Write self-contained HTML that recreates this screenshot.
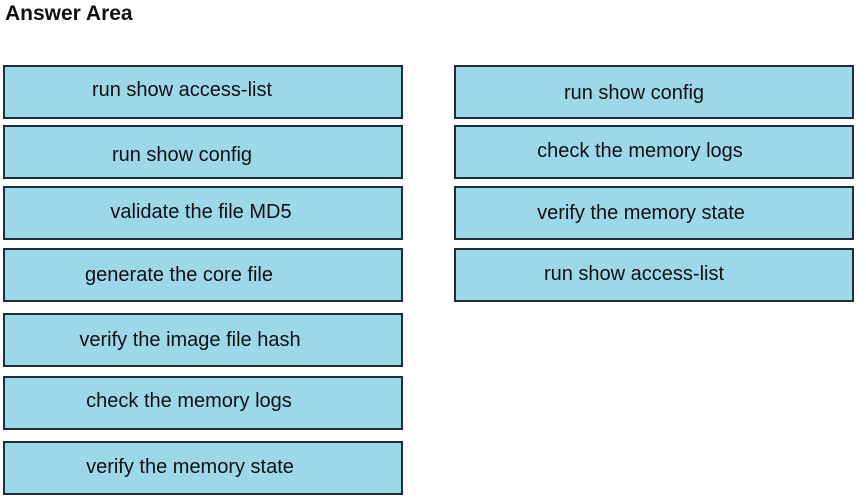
<!DOCTYPE html>
<html><head><style>
body{margin:0;width:866px;height:504px;background:#fff;position:relative;overflow:hidden;font-family:"Liberation Sans",sans-serif}
.t{position:absolute;left:5px;top:2px;font-weight:bold;font-size:21px;color:#111}
.b{position:absolute;background:#9dd8e9;border:2px solid #1f2f38;box-sizing:border-box}
.l{position:absolute;width:400px;text-align:center;font-size:20px;color:#111;line-height:22px}
</style></head><body>
<div class="t">Answer Area</div>
<div class="b" style="left:3px;top:65px;width:400px;height:54px"></div>
<div class="b" style="left:3px;top:125px;width:400px;height:54px"></div>
<div class="b" style="left:3px;top:186px;width:400px;height:54px"></div>
<div class="b" style="left:3px;top:248px;width:400px;height:54px"></div>
<div class="b" style="left:3px;top:313px;width:400px;height:54px"></div>
<div class="b" style="left:3px;top:376px;width:400px;height:54px"></div>
<div class="b" style="left:3px;top:441px;width:400px;height:54px"></div>
<div class="b" style="left:454px;top:65px;width:400px;height:54px"></div>
<div class="b" style="left:454px;top:125px;width:400px;height:54px"></div>
<div class="b" style="left:454px;top:186px;width:400px;height:54px"></div>
<div class="b" style="left:454px;top:248px;width:400px;height:54px"></div>
<div class="l" style="left:-18px;top:79px">run show access-list</div>
<div class="l" style="left:-18px;top:144px">run show config</div>
<div class="l" style="left:1px;top:201px">validate the file MD5</div>
<div class="l" style="left:-21px;top:264px">generate the core file</div>
<div class="l" style="left:-10px;top:329px">verify the image file hash</div>
<div class="l" style="left:-11px;top:390px">check the memory logs</div>
<div class="l" style="left:-10px;top:456px">verify the memory state</div>
<div class="l" style="left:434px;top:82px">run show config</div>
<div class="l" style="left:440px;top:140px">check the memory logs</div>
<div class="l" style="left:441px;top:202px">verify the memory state</div>
<div class="l" style="left:434px;top:263px">run show access-list</div>
</body></html>
